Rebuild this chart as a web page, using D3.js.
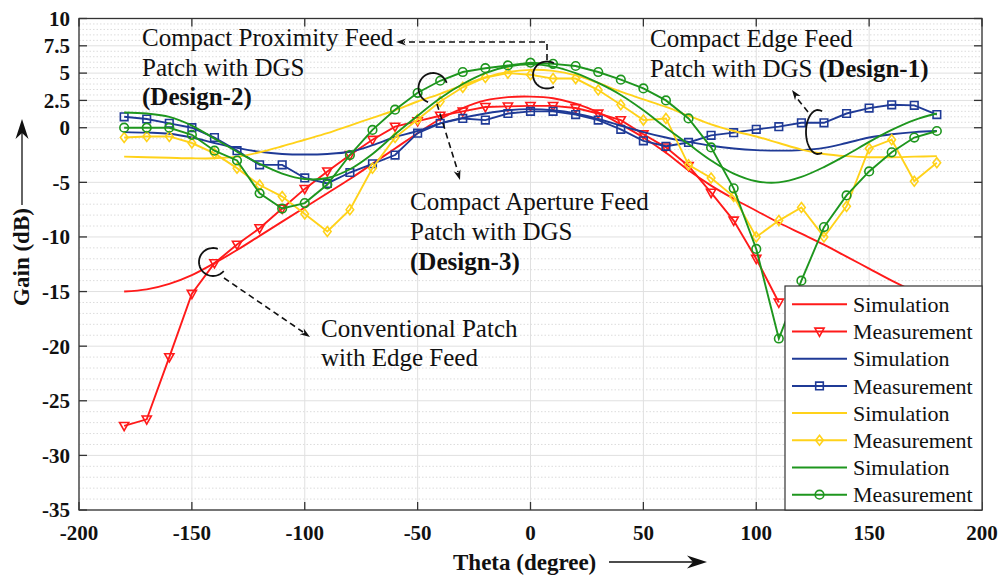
<!DOCTYPE html>
<html>
<head>
<meta charset="utf-8">
<script src="https://cdn.jsdelivr.net/npm/d3@7/dist/d3.min.js"></script>
<style>
  body { margin: 0; background: #fff; }
  svg { display: block; }
  text { font-family: "Liberation Serif", "Times New Roman", serif; fill: #111; }
</style>
</head>
<body>
<div id="chart"></div>
<script>
// angles (degrees) sampled every 10 deg
const angles = [-180,-170,-160,-150,-140,-130,-120,-110,-100,-90,-80,-70,-60,-50,-40,-30,-20,-10,0,
  10,20,30,40,50,60,70,80,90,100,110,120,130,140,150,160,170,180];

// Conventional patch (red)
const redSim = [-15.0,-14.8,-14.3,-13.5,-12.4,-11.2,-9.9,-8.6,-7.3,-6.0,-4.7,-3.3,-1.9,-0.5,0.8,1.8,2.5,2.8,2.85,
  2.7,2.2,1.4,0.3,-0.9,-2.3,-3.9,-5.3,-6.5,-7.6,-8.7,-9.7,-10.7,-11.8,-12.9,-14.0,-15.0,-15.9];
// measured red only visible up to 110 deg (rest hidden by legend)
const redMeas = [-27.3,-26.7,-21.0,-15.2,-12.4,-10.7,-9.2,-7.4,-5.6,-4.0,-2.5,-1.1,0.1,0.6,1.1,1.5,1.9,1.95,2.0,
  2.0,1.8,1.3,0.7,-0.6,-1.8,-3.5,-5.95,-8.5,-12.0,-16.0];

// Design-1 (blue)
const blueSim = [-0.4,-0.45,-0.55,-0.9,-1.4,-1.85,-2.2,-2.4,-2.45,-2.4,-2.2,-1.6,-0.85,-0.3,0.4,0.9,1.3,1.6,1.7,
  1.6,1.3,0.8,0.2,-0.4,-0.9,-1.3,-1.65,-1.9,-2.05,-2.1,-2.05,-1.85,-1.4,-0.9,-0.6,-0.4,-0.3];
const blueMeas = [1.0,0.8,0.4,0.0,-0.9,-2.1,-3.4,-3.4,-4.6,-5.1,-4.1,-3.3,-2.5,-0.5,0.4,0.85,0.7,1.3,1.5,
  1.5,1.2,0.7,-0.15,-1.2,-1.7,-1.35,-0.7,-0.45,-0.15,0.1,0.45,0.45,1.3,1.8,2.1,2.05,1.2];

// Design-3 (yellow)
const yellowSim = [-2.65,-2.7,-2.75,-2.8,-2.8,-2.65,-2.25,-1.7,-1.1,-0.5,0.2,0.9,1.6,2.4,3.1,3.9,4.6,5.1,5.3,
  5.2,4.8,4.1,3.3,2.6,1.9,1.1,0.3,-0.3,-0.8,-1.4,-2.0,-2.4,-2.6,-2.7,-2.7,-2.65,-2.6];
const yellowMeas = [-0.9,-0.8,-0.8,-1.4,-2.35,-3.7,-5.25,-6.3,-7.9,-9.5,-7.5,-3.7,-0.9,0.75,2.4,3.7,4.6,5.0,4.85,
  4.5,4.5,3.45,2.1,0.7,0.85,-3.4,-4.6,-6.3,-10.0,-8.5,-7.3,-10.0,-7.2,-1.9,-1.1,-4.9,-3.2];

// Design-2 (green)
const greenSim = [1.4,1.3,1.0,0.2,-1.0,-2.2,-3.3,-4.2,-4.7,-4.6,-3.8,-2.4,-0.6,1.1,2.7,4.0,5.0,5.6,5.8,
  5.6,5.0,4.1,3.0,1.6,0.0,-1.5,-3.0,-4.2,-4.9,-5.0,-4.5,-3.6,-2.5,-1.3,-0.2,0.7,1.3];
const greenMeas = [0.0,0.0,0.0,-0.65,-2.1,-3.0,-6.0,-7.4,-6.9,-5.2,-2.5,-0.2,1.65,3.2,4.3,5.1,5.45,5.7,5.95,
  5.85,5.65,5.1,4.4,3.6,2.5,0.85,-1.8,-5.55,-11.1,-19.3,-14.0,-9.1,-6.2,-4.0,-2.25,-0.9,-0.3];

const xTicks = [-200,-150,-100,-50,0,50,100,150,200];
const yTicks = [-35,-30,-25,-20,-15,-10,-5,0,2.5,5,7.5,10];
const yTickLabels = ["-35","-30","-25","-20","-15","-10","-5","0","2.5","5","7.5","10"];
const legendNames = ["Simulation","Measurement","Simulation","Measurement","Simulation","Measurement","Simulation","Measurement"];

const width = 1001, height = 575;
const margin = { left: 79, right: 19, top: 18.5, bottom: 65 };

const series = [
  { x: angles, y: redSim, color: "#ff1a1a", marker: null, smooth: true },
  { x: angles.slice(0, redMeas.length), y: redMeas, color: "#ff1a1a", marker: "triangle" },
  { x: angles, y: blueSim, color: "#1f3a96", marker: null, smooth: true },
  { x: angles, y: blueMeas, color: "#1f3a96", marker: "square" },
  { x: angles, y: yellowSim, color: "#ffd21a", marker: null, smooth: true },
  { x: angles, y: yellowMeas, color: "#ffd21a", marker: "diamond" },
  { x: angles, y: greenSim, color: "#1e961e", marker: null, smooth: true },
  { x: angles, y: greenMeas, color: "#1e961e", marker: "circle" }
];

const svg = d3.select("#chart").append("svg")
  .attr("width", width)
  .attr("height", height);

const x = d3.scaleLinear().domain([-200, 200]).range([margin.left, width - margin.right]);
const y = d3.scaleLinear().domain([-35, 10]).range([height - margin.bottom, margin.top]);

const x0 = x.range()[0], x1 = x.range()[1];
const y0 = y.range()[0], y1 = y.range()[1];

// minor grid (dotted)
const minorY = [];
for (let v = -34; v < 0; v += 1) if (v % 5 !== 0) minorY.push(v);
for (let v = 0.5; v < 10; v += 0.5) if (v % 2.5 !== 0) minorY.push(v);
svg.append("g").selectAll("line").data(minorY).join("line")
  .attr("x1", x0).attr("x2", x1)
  .attr("y1", d => y(d)).attr("y2", d => y(d))
  .attr("stroke", "#dcdcdc").attr("stroke-width", 1)
  .attr("stroke-dasharray", "1.5,2");

// major grid
svg.append("g").selectAll("line").data(yTicks).join("line")
  .attr("x1", x0).attr("x2", x1)
  .attr("y1", d => y(d)).attr("y2", d => y(d))
  .attr("stroke", "#e0e0e0").attr("stroke-width", 1);
svg.append("g").selectAll("line").data(xTicks).join("line")
  .attr("x1", d => x(d)).attr("x2", d => x(d))
  .attr("y1", y0).attr("y2", y1)
  .attr("stroke", "#e0e0e0").attr("stroke-width", 1);

// marker shapes
function markerPath(type, cx, cy) {
  switch (type) {
    case "triangle":
      return `M${cx - 4.6},${cy - 3.4}L${cx + 4.6},${cy - 3.4}L${cx},${cy + 4.8}Z`;
    case "square":
      return `M${cx - 3.8},${cy - 3.8}h7.6v7.6h-7.6Z`;
    case "diamond":
      return `M${cx},${cy - 5}L${cx + 3.8},${cy}L${cx},${cy + 5}L${cx - 3.8},${cy}Z`;
    case "circle":
      return `M${cx + 4.3},${cy}A4.3,4.3 0 1,1 ${cx - 4.3},${cy}A4.3,4.3 0 1,1 ${cx + 4.3},${cy}Z`;
  }
  return "";
}

const plot = svg.append("g");
svg.append("clipPath").attr("id", "clip").append("rect")
  .attr("x", x0).attr("y", y1).attr("width", x1 - x0).attr("height", y0 - y1);
plot.attr("clip-path", "url(#clip)");

series.forEach(s => {
  const pts = s.x.map((a, i) => [a, s.y[i]]);
  const line = d3.line()
    .x(d => x(d[0])).y(d => y(d[1]))
    .curve(s.smooth ? d3.curveCatmullRom.alpha(0.5) : d3.curveLinear);
  plot.append("path")
    .attr("d", line(pts))
    .attr("fill", "none")
    .attr("stroke", s.color)
    .attr("stroke-width", 1.9);
  if (s.marker) {
    plot.append("g").selectAll("path").data(pts).join("path")
      .attr("d", d => markerPath(s.marker, x(d[0]), y(d[1])))
      .attr("fill", "none")
      .attr("stroke", s.color)
      .attr("stroke-width", 1.6);
  }
});

// axes box and ticks
svg.append("rect")
  .attr("x", x0).attr("y", y1).attr("width", x1 - x0).attr("height", y0 - y1)
  .attr("fill", "none").attr("stroke", "#333").attr("stroke-width", 1.3);

const tickLen = 8;
const tickG = svg.append("g").attr("stroke", "#333").attr("stroke-width", 1.3);
xTicks.forEach(t => {
  tickG.append("line").attr("x1", x(t)).attr("x2", x(t)).attr("y1", y0).attr("y2", y0 - tickLen);
  tickG.append("line").attr("x1", x(t)).attr("x2", x(t)).attr("y1", y1).attr("y2", y1 + tickLen);
});
yTicks.forEach(t => {
  tickG.append("line").attr("x1", x0).attr("x2", x0 + tickLen).attr("y1", y(t)).attr("y2", y(t));
  tickG.append("line").attr("x1", x1).attr("x2", x1 - tickLen).attr("y1", y(t)).attr("y2", y(t));
});

svg.append("g").selectAll("text").data(xTicks).join("text")
  .attr("x", d => x(d)).attr("y", y0 + 30)
  .attr("text-anchor", "middle")
  .attr("font-size", 21).attr("font-weight", "bold")
  .text(d => d);
svg.append("g").selectAll("text").data(yTicks).join("text")
  .attr("x", x0 - 9).attr("y", d => y(d))
  .attr("dy", "0.35em")
  .attr("text-anchor", "end")
  .attr("font-size", 21).attr("font-weight", "bold")
  .text((d, i) => yTickLabels[i]);

// axis titles with arrows
function arrowHead(g, tx, ty, angle, len = 18, half = 6.5) {
  const ca = Math.cos(angle), sa = Math.sin(angle);
  const bx = tx - len * ca, by = ty - len * sa;
  const nx = tx - len * 0.7 * ca, ny = ty - len * 0.7 * sa;
  g.append("path")
    .attr("d", `M${tx},${ty}L${bx - half * sa},${by + half * ca}L${nx},${ny}L${bx + half * sa},${by - half * ca}Z`)
    .attr("fill", "#111");
}

svg.append("text")
  .attr("transform", "translate(29,257) rotate(-90)")
  .attr("text-anchor", "middle")
  .attr("font-size", 23).attr("font-weight", "bold")
  .text("Gain (dB)");
svg.append("line").attr("x1", 22).attr("x2", 22).attr("y1", 205).attr("y2", 126)
  .attr("stroke", "#111").attr("stroke-width", 1.3);
arrowHead(svg, 22, 119, -Math.PI / 2, 20, 6.5);

svg.append("text")
  .attr("x", 453).attr("y", 570)
  .attr("font-size", 23).attr("font-weight", "bold")
  .text("Theta (degree)");
svg.append("line").attr("x1", 609).attr("x2", 700).attr("y1", 562).attr("y2", 562)
  .attr("stroke", "#111").attr("stroke-width", 1.3);
arrowHead(svg, 707, 562, 0, 20, 6.5);

// annotations
const ann = svg.append("g");
function textBlock(xp, baselines, lines) {
  lines.forEach((ln, i) => {
    const t = ann.append("text").attr("x", xp).attr("y", baselines[i]).attr("font-size", 25);
    ln.forEach(part => {
      t.append("tspan").attr("font-weight", part.b ? "bold" : "normal").text(part.t);
    });
  });
}
textBlock(142, [46, 75.5, 105], [
  [{ t: "Compact Proximity Feed" }],
  [{ t: "Patch with DGS" }],
  [{ t: "(Design-2)", b: true }]
]);
textBlock(650, [46.5, 76.5], [
  [{ t: "Compact Edge Feed" }],
  [{ t: "Patch with DGS " }, { t: "(Design-1)", b: true }]
]);
textBlock(410, [210, 240, 270], [
  [{ t: "Compact Aperture Feed" }],
  [{ t: "Patch with DGS" }],
  [{ t: "(Design-3)", b: true }]
]);
textBlock(321, [337, 366], [
  [{ t: "Conventional Patch" }],
  [{ t: "with Edge Feed" }]
]);

function openEllipse(cx, cy, rx, ry, a0, a1) {
  const p = d3.path();
  const n = 40;
  for (let i = 0; i <= n; i++) {
    const a = a0 + (a1 - a0) * i / n;
    const px = cx + rx * Math.cos(a), py = cy + ry * Math.sin(a);
    if (i === 0) p.moveTo(px, py); else p.lineTo(px, py);
  }
  ann.append("path").attr("d", p.toString())
    .attr("fill", "none").attr("stroke", "#111").attr("stroke-width", 1.8);
}
const deg = Math.PI / 180;
openEllipse(547, 75, 14, 13.5, -60 * deg, -300 * deg);
openEllipse(433, 88, 14.5, 15, -20 * deg, -250 * deg);
openEllipse(818, 132, 12, 22, -70 * deg, -290 * deg);
openEllipse(213, 262, 14, 14, -70 * deg, -320 * deg);

function dashed(pts) {
  ann.append("path").attr("d", d3.line()(pts))
    .attr("fill", "none").attr("stroke", "#111").attr("stroke-width", 1.6)
    .attr("stroke-dasharray", "6,4");
}
dashed([[547, 60], [547, 42], [404, 42]]);
arrowHead(ann, 396, 42, Math.PI, 10, 3.5);
dashed([[437, 104], [458, 172]]);
arrowHead(ann, 460, 180, Math.atan2(76, 23), 10, 3.5);
dashed([[808, 112], [796, 97]]);
arrowHead(ann, 792, 90, Math.atan2(-22, -16), 10, 3.5);
dashed([[224, 278], [303, 332]]);
arrowHead(ann, 310, 337, Math.atan2(59, 86), 10, 3.5);

// legend
const lg = svg.append("g");
const lgX = 785, lgY = 286;
lg.append("rect")
  .attr("x", lgX).attr("y", lgY).attr("width", x1 - lgX).attr("height", y0 - lgY)
  .attr("fill", "#fff").attr("stroke", "#333").attr("stroke-width", 1.2);
series.forEach((s, i) => {
  const cy = lgY + 18.3 + i * 27.2;
  lg.append("line").attr("x1", lgX + 7).attr("x2", lgX + 62).attr("y1", cy).attr("y2", cy)
    .attr("stroke", s.color).attr("stroke-width", 2);
  if (s.marker) {
    lg.append("path").attr("d", markerPath(s.marker, lgX + 34.5, cy))
      .attr("fill", "none").attr("stroke", s.color).attr("stroke-width", 1.6);
  }
  lg.append("text").attr("x", lgX + 68).attr("y", cy).attr("dy", "0.35em")
    .attr("font-size", 22).text(legendNames[i]);
});
</script>
</body>
</html>
